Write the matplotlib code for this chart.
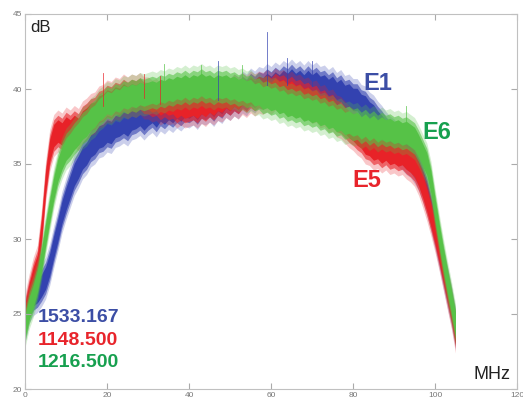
import numpy as np
import matplotlib
matplotlib.use("Agg")
import matplotlib.pyplot as plt

plt.rcParams['font.family'] = ['Liberation Sans', 'DejaVu Sans']

# frequency grid (MHz), one reading per MHz
freq = list(range(0, 106))

# E1 (blue) centre level, dB
e1 = [24.5, 25.8, 26.3, 26.5, 26.9, 27.4, 28.3, 29.5, 30.6, 31.8,
      32.7, 33.5, 34.3, 34.8, 35.4, 35.7, 36.2, 36.4, 36.8, 36.9,
      37.2, 37.1, 37.5, 37.6, 37.8, 37.6, 38.0, 38.1, 38.3, 38.0,
      38.3, 38.5, 38.2, 38.6, 38.4, 38.7, 38.5, 38.8, 38.6, 38.9,
      38.8, 39.0, 38.7, 39.1, 39.0, 39.2, 38.9, 39.3, 39.1, 39.5,
      39.3, 39.6, 39.4, 39.8, 39.6, 40.0, 39.8, 40.1, 40.0, 40.3,
      40.1, 40.4, 40.2, 40.5, 40.3, 40.6, 40.3, 40.5, 40.2, 40.5,
      40.2, 40.4, 40.1, 40.2, 39.9, 40.1, 39.7, 39.9, 39.5, 39.6,
      39.3, 39.3, 38.9, 38.8, 38.4, 38.2, 37.8, 37.5, 37.1, 36.8,
      36.6, 36.2, 36.0, 35.7, 35.5, 35.1, 34.6, 33.9, 33.0, 31.9,
      30.7, 29.4, 28.1, 26.8, 25.5, 24.0]

# E5 (red)
e5 = [25.0, 26.3, 27.4, 28.2, 30.6, 33.8, 35.9, 36.9, 37.2, 37.0,
      37.4, 37.2, 37.5, 37.3, 37.8, 38.0, 38.3, 38.4, 38.8, 38.9,
      39.2, 39.1, 39.4, 39.3, 39.6, 39.4, 39.6, 39.5, 39.7, 39.4,
      39.4, 39.2, 39.3, 39.0, 39.2, 39.0, 39.1, 38.8, 39.0, 38.8,
      38.9, 39.0, 38.8, 39.1, 38.9, 39.2, 39.0, 39.3, 39.2, 39.5,
      39.3, 39.6, 39.4, 39.7, 39.5, 39.8, 39.6, 39.8, 39.7, 39.9,
      39.7, 40.0, 39.8, 39.9, 39.6, 39.8, 39.5, 39.6, 39.3, 39.4,
      39.1, 39.2, 38.8, 38.9, 38.5, 38.6, 38.2, 38.1, 37.8, 37.5,
      37.3, 37.0, 36.8, 36.4, 36.3, 36.0, 36.1, 35.8, 36.0, 35.7,
      35.8, 35.6, 35.7, 35.4, 35.2, 34.9, 34.3, 33.5, 32.6, 31.6,
      30.5, 29.3, 28.0, 26.7, 25.4, 23.8]

# E6 (green)
e6 = [24.2, 25.4, 26.2, 27.2, 28.6, 30.3, 31.9, 33.4, 34.6, 35.4,
      36.0, 36.3, 36.7, 37.0, 37.4, 37.6, 38.0, 38.2, 38.6, 38.8,
      39.1, 39.0, 39.3, 39.2, 39.5, 39.4, 39.6, 39.5, 39.7, 39.6,
      39.7, 39.8, 39.7, 39.9, 39.8, 40.0, 39.9, 40.1, 40.0, 40.2,
      40.0, 40.2, 40.1, 40.3, 40.1, 40.2, 40.0, 40.2, 40.1, 40.2,
      40.0, 40.1, 39.9, 40.0, 39.8, 39.9, 39.6, 39.7, 39.4, 39.5,
      39.3, 39.4, 39.1, 39.2, 38.9, 39.0, 38.8, 38.9, 38.6, 38.7,
      38.5, 38.6, 38.3, 38.4, 38.1, 38.2, 37.9, 38.0, 37.7, 37.8,
      37.6, 37.7, 37.4, 37.6, 37.3, 37.5, 37.2, 37.4, 37.2, 37.3,
      37.1, 37.2, 37.0, 37.1, 36.9, 36.7, 36.2, 35.6, 35.0, 33.8,
      32.0, 30.3, 28.7, 27.2, 25.8, 24.3]

# a few isolated spikes seen above the bands: (MHz, peak dB)
e1_spikes = [(59, 43.8), (47, 41.9), (64, 42.1), (70, 41.9)]
e5_spikes = [(19, 41.1), (29, 41.0), (33, 40.9)]
e6_spikes = [(34, 41.7), (43, 41.6), (53, 41.6), (93, 38.9)]

names = ["E1", "E5", "E6"]
rates = ["1533.167", "1148.500", "1216.500"]

fig = plt.figure(figsize=(5.23, 4.0), dpi=100)
ax = fig.add_axes([0.048, 0.0275, 0.9405, 0.9375])

f = np.array(freq)
series = [(e1, e1_spikes, "#3342b0"), (e5, e5_spikes, "#e82228"), (e6, e6_spikes, "#56c247")]
for vals, spikes, col in series:
    v = np.array(vals)
    # fuzzy outer edge, then the dense core of the trace
    ax.fill_between(f, v - 1.4, v + 1.4, color=col, lw=0, alpha=0.25)
    ax.fill_between(f, v - 1.05, v + 1.05, color=col, lw=0, alpha=0.6)
    ax.fill_between(f, v - 0.75, v + 0.75, color=col, lw=0, alpha=1.0)
    for sx, sy in spikes:
        ax.plot([sx, sx], [v[sx], sy], c=col, lw=0.6, alpha=0.8)

ax.set_xlim(0, 120)
ax.set_ylim(20, 45)
ax.set_xticks(range(0, 121, 20))
ax.set_yticks(range(20, 46, 5))
ax.tick_params(direction='in', top=True, right=True, labelsize=6,
               labelcolor='#777777', color='#aaaaaa', length=4, pad=2)
for s in ax.spines.values():
    s.set_color('#c0c0c0')
    s.set_linewidth(0.8)

ax.text(1.2, 44.1, "dB", fontsize=12, va='center', ha='left', color='#222222')
ax.text(118.5, 20.4, "MHz", fontsize=13, va='bottom', ha='right', color='#222222')

ax.text(82.5, 40.4, names[0], fontsize=17, fontweight='bold', color='#3c4ea5', va='center')
ax.text(79.8, 33.9, names[1], fontsize=17, fontweight='bold', color='#e8242b', va='center')
ax.text(97.0, 37.1, names[2], fontsize=17, fontweight='bold', color='#17a04f', va='center')

ax.text(3.2, 24.75, rates[0], fontsize=14, fontweight='bold', color='#3c4ea5', va='center')
ax.text(3.2, 23.25, rates[1], fontsize=14, fontweight='bold', color='#e8242b', va='center')
ax.text(3.2, 21.75, rates[2], fontsize=14, fontweight='bold', color='#17a04f', va='center')

fig.savefig("out.png", dpi=100)
plt.close()
